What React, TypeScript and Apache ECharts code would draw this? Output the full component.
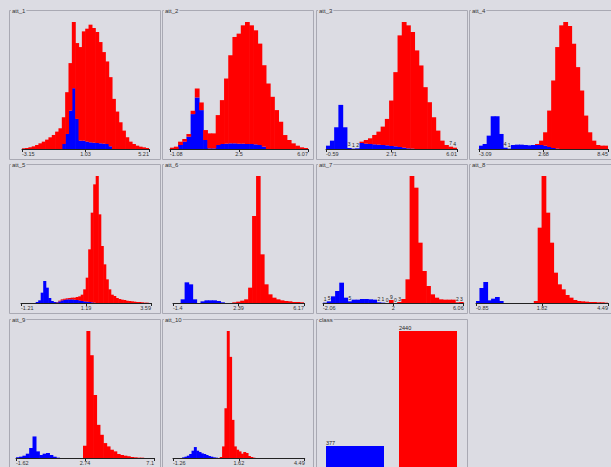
import React, { useEffect, useRef } from "react";
import * as echarts from "echarts";

// ---------- data ----------
const attNames = ["att_1", "att_2", "att_3", "att_4", "att_5", "att_6", "att_7", "att_8", "att_9", "att_10"];

const att1Blue = [0,0,0,0,0,0,0,0,0,0,0,0,15,45,115,182,90,25,25,22,20,19,18,17,16,15,8,0,0,0,0,0,0,0,0,0,0,0];
const att1Red = [2,3,5,8,12,17,22,28,35,42,52,62,80,125,142,198,227,280,327,338,352,343,332,303,274,247,207,150,112,80,55,35,22,15,10,7,5,3];
const att1Ticks = ["-3.15", "1.03", "5.21"];

const att2Blue = [0,0,12,22,37,105,155,117,27,2,2,12,15,16,17,17,16,16,15,15,14,12,7,0,0,0,0,0,0,0,0,0,0];
const att2Red = [4,7,10,8,8,10,27,23,30,45,45,90,132,196,265,320,331,356,367,357,343,305,245,197,157,117,82,42,27,17,10,5,3];
const att2Ticks = ["-1.08", "2.5", "6.07"];

const att3Blue = [10,25,65,132,65,3,1,2,18,16,15,14,13,12,11,9,8,6,4,2,1,0,0,0,0,0,0,0,0,0,0];
const att3Red = [0,0,0,0,0,0,0,0,4,11,17,28,39,55,79,136,222,334,376,368,349,295,250,185,140,95,55,25,12,7,4];
const att3Ticks = ["-0.59", "2.71", "6.01"];

const att4Blue = [10,15,40,98,98,45,4,1,12,13,13,12,11,12,12,12,10,6,3,1,0,0,0,0,0,0,0,0,0,0,0,0];
const att4Red = [0,0,0,0,0,0,0,0,0,0,0,0,0,0,3,13,40,109,202,304,370,380,368,315,245,175,100,50,25,12,10,10];
const att4Ticks = ["-3.09", "2.68", "8.45"];

const att5Blue = [0,0,0,0,0,0,3,8,31,66,46,15,6,3,2,5,8,10,11,11,11,10,9,8,6,5,4,3,2,1,0,0,0,0,0,0,0,0,0,0,0,0,0,0,0,0,0,0,0,0,0,0];
const att5Red = [0,0,0,0,0,0,0,0,0,0,0,0,0,0,1,2,3,3,3,4,5,6,9,12,19,36,72,158,269,355,381,266,171,116,71,41,25,21,15,12,10,9,7,6,5,4,3,3,2,1,1,0];
const att5Ticks = ["-1.21", "1.19", "3.59"];

const att6Blue = [0,0,11,62,56,11,0,5,8,8,8,6,2,0,0,0,0,0,0,0,0,0,0,0,0,0,0,0,0,0,0,0,0];
const att6Red = [0,0,0,0,0,0,0,0,0,0,0,0,0,0,0,2,4,7,11,46,261,381,146,56,26,16,11,8,6,5,3,3,2];
const att6Ticks = ["-1.4", "2.39", "6.17"];

const att7Blue = [1,5,20,36,61,16,5,10,10,12,12,11,10,2,1,0,0,0,0,0,0,0,0,0,0,0,0,0,0,0,0,0,0,0];
const att7Red = [0,0,0,0,0,0,0,0,0,0,0,0,0,0,0,0,9,0,3,12,71,381,346,181,96,51,26,16,11,10,10,10,2,3];
const att7Ticks = ["-2.06", "2", "6.06"];

const att8Blue = [6,45,63,8,13,18,6,0,0,0,0,0,0,0,0,0,0,0,0,0,0,0,0,0,0,0,0,0,0,0,0,0,0,0];
const att8Red = [0,0,0,0,0,0,0,0,0,0,0,0,0,0,0,6,226,381,271,181,91,56,41,24,16,9,6,5,4,3,3,2,2,1];
const att8Ticks = ["-0.85", "1.82", "4.49"];

const att9Blue = [2,4,7,13,30,65,20,9,13,15,9,4,1,0,0,0,0,0,0,0,0,0,0,0,0,0,0,0,0,0,0,0,0,0,0,0,0,0,0,0,0];
const att9Red = [0,0,0,0,0,0,0,0,0,0,0,0,0,0,0,0,0,0,0,0,37,383,310,190,100,70,45,35,25,20,12,9,7,5,3,2,1,1,0,0,0];
const att9Ticks = ["-1.62", "2.74", "7.1"];

const att10Blue = [0,0,0,0,2,4,7,12,22,33,22,18,14,12,9,6,4,2,1,0,0,0,0,0,0,0,0,0,0,0,0,0,0,0,0,0,0,0,0,0,0,0,0,0,0,0,0,0,0,0,0,0,0,0,0,0];
const att10Red = [0,0,0,0,0,0,0,0,0,0,0,0,0,0,0,0,0,0,0,0,3,35,150,383,305,115,35,25,20,13,18,15,6,3,1,0,0,0,0,0,0,0,0,0,0,0,0,0,0,0,0,0,0,0,0,0];
const att10Ticks = ["-1.26", "1.62", "4.49"];

const classTitle = "class";
const classCategories = ["0", "1"];
const classCounts = [377, 2440];

// attributes whose small bin counts are printed above the bars
const countedAttributes = ["att_3", "att_4", "att_7"];

// ---------- layout / style ----------
const BG = "#dcdce3";
const BORDER = "#a9a9b3";
const BLUE = "#0000ff";
const RED = "#ff0000";
const FONT = "'Liberation Sans', Arial, sans-serif";

const panelX = [9, 162, 316, 469];
const panelY = [10, 164, 319];
const PW = 151;
const PH = 149;
const PLOT_TOP = 12;
const PLOT_H = 127;
// [left, width] of each histogram's axis
const plotBoxes: [number, number][] = [
  [22, 127], [170, 138], [326, 131], [479, 135.4],
  [21, 130], [173, 131], [323, 140.7], [476, 141.7],
  [16, 138], [173, 131.7],
];

const histograms = [
  { blue: att1Blue, red: att1Red, ticks: att1Ticks },
  { blue: att2Blue, red: att2Red, ticks: att2Ticks },
  { blue: att3Blue, red: att3Red, ticks: att3Ticks },
  { blue: att4Blue, red: att4Red, ticks: att4Ticks },
  { blue: att5Blue, red: att5Red, ticks: att5Ticks },
  { blue: att6Blue, red: att6Red, ticks: att6Ticks },
  { blue: att7Blue, red: att7Red, ticks: att7Ticks },
  { blue: att8Blue, red: att8Red, ticks: att8Ticks },
  { blue: att9Blue, red: att9Red, ticks: att9Ticks },
  { blue: att10Blue, red: att10Red, ticks: att10Ticks },
];

function buildOption() {
  const grid: any[] = [];
  const xAxis: any[] = [];
  const yAxis: any[] = [];
  const series: any[] = [];
  const graphic: any[] = [];

  const panelTitles = [...attNames, classTitle];
  panelTitles.forEach((title, i) => {
    const col = i % 4;
    const row = Math.floor(i / 4);
    const x = panelX[col];
    const y = panelY[row];
    graphic.push({
      type: "rect",
      z: 0,
      shape: { x: x + 0.5, y: y + 0.5, width: PW, height: PH },
      style: { fill: "none", stroke: BORDER, lineWidth: 1 },
    });
    graphic.push({
      type: "text",
      z: 1,
      x: x + 2,
      y: y + 0.5,
      style: {
        text: title,
        fill: "#333",
        font: `6px ${FONT}`,
        verticalAlign: "middle",
        backgroundColor: BG,
        padding: [0, 1],
      },
    });
  });

  histograms.forEach((h, i) => {
    const row = Math.floor(i / 4);
    const [left, width] = plotBoxes[i];
    grid.push({ left, width, top: panelY[row] + PLOT_TOP, height: PLOT_H });
    const cats = h.blue.map((_, k) => String(k));
    const counted = countedAttributes.includes(attNames[i]);
    const bw = width / h.blue.length + 0.6; // slight overlap hides hairline seams
    xAxis.push({
      type: "category",
      gridIndex: i,
      data: cats,
      show: false,
      boundaryGap: true,
    });
    xAxis.push({
      type: "value",
      gridIndex: i,
      position: "bottom",
      min: 0,
      max: 2,
      interval: 1,
      axisLine: { show: true, onZero: false, lineStyle: { color: "#222", width: 1 } },
      axisTick: { show: true, length: 3, lineStyle: { color: "#222" } },
      splitLine: { show: false },
      axisLabel: {
        fontSize: 5.5,
        fontFamily: FONT,
        color: "#333",
        margin: 2,
        alignMinLabel: "left",
        alignMaxLabel: "right",
        formatter: (v: number) => h.ticks[Math.round(v)] ?? "",
      },
    });
    yAxis.push({ type: "value", gridIndex: i, min: 0, max: "dataMax", show: false });
    series.push({
      type: "bar",
      name: attNames[i] + " blue",
      xAxisIndex: 2 * i,
      yAxisIndex: i,
      stack: "s" + i,
      barWidth: bw,
      data: h.blue,
      itemStyle: { color: BLUE },
    });
    series.push({
      type: "bar",
      name: attNames[i] + " red",
      xAxisIndex: 2 * i,
      yAxisIndex: i,
      stack: "s" + i,
      barWidth: bw,
      data: h.red,
      itemStyle: { color: RED },
      label: {
        show: counted,
        position: "top",
        distance: 1,
        fontSize: 5,
        fontFamily: FONT,
        color: "#222",
        formatter: (p: any) => {
          const t = h.blue[p.dataIndex] + h.red[p.dataIndex];
          return t < 10 ? String(t) : "";
        },
      },
    });
  });

  // class panel
  const ci = histograms.length;
  grid.push({ left: 318.5, width: 146, top: panelY[2] + PLOT_TOP, height: 139 });
  xAxis.push({ type: "category", gridIndex: ci, data: classCategories, show: false });
  yAxis.push({ type: "value", gridIndex: ci, min: 0, max: "dataMax", show: false });
  series.push({
    type: "bar",
    name: classTitle,
    xAxisIndex: xAxis.length - 1,
    yAxisIndex: ci,
    barWidth: 58,
    data: classCounts.map((v, k) => ({ value: v, itemStyle: { color: k === 0 ? BLUE : RED } })),
    label: {
      show: true,
      position: [0, -6],
      fontSize: 5.5,
      fontFamily: FONT,
      color: "#222",
    },
  });

  return {
    animation: false,
    backgroundColor: BG,
    grid,
    xAxis,
    yAxis,
    series,
    graphic,
  };
}

export default function App() {
  const ref = useRef<HTMLDivElement>(null);
  useEffect(() => {
    if (!ref.current) return;
    const chart = echarts.init(ref.current, undefined, { renderer: "svg" });
    chart.setOption(buildOption() as any);
    return () => chart.dispose();
  }, []);
  return (
    <div
      ref={ref}
      style={{ position: "fixed", left: 0, top: 0, width: 611, height: 467, background: BG }}
    />
  );
}
